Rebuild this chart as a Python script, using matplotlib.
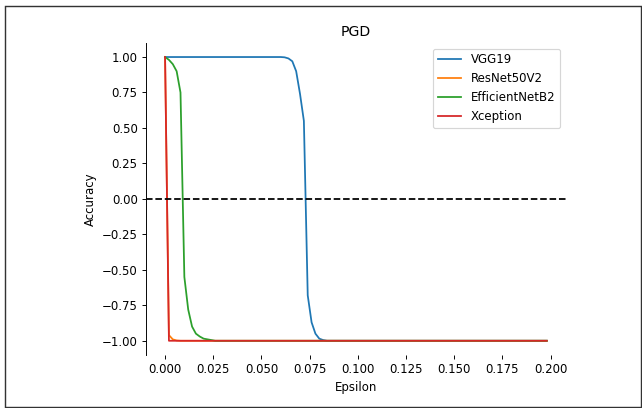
import numpy as np
import matplotlib
matplotlib.use("Agg")
import matplotlib.pyplot as plt
from matplotlib.patches import Rectangle

# epsilon grid: 0 .. 0.198 step 0.002 (100 points)
eps = np.round(np.arange(100) * 0.002, 3)

# values (accuracy at each epsilon)
vgg19_head = [1.0] * 30 + [1.0, 0.998, 0.99, 0.97, 0.90, 0.74, 0.55,
                           -0.68, -0.87, -0.95, -0.985, -0.995]
vgg19 = vgg19_head + [-1.0] * (100 - len(vgg19_head))

resnet_head = [1.0, -0.96, -0.99, -0.998]
resnet50v2 = resnet_head + [-1.0] * (100 - len(resnet_head))

effnet_head = [1.0, 0.98, 0.95, 0.90, 0.75, -0.55, -0.78, -0.90, -0.95,
               -0.97, -0.985, -0.99, -0.995]
efficientnetb2 = effnet_head + [-1.0] * (100 - len(effnet_head))

xcep_head = [1.0]
xception = xcep_head + [-1.0] * (100 - len(xcep_head))

series = {
    "VGG19": vgg19,
    "ResNet50V2": resnet50v2,
    "EfficientNetB2": efficientnetb2,
    "Xception": xception,
}

DPI = 85
fig = plt.figure(figsize=(642 / DPI, 408 / DPI), dpi=DPI)
ax = fig.add_axes([0.2274, 0.130, 0.654, 0.765])

for name, vals in series.items():
    ax.plot(eps, vals, label=name)

ax.axhline(0, color="black", linestyle="--")
ax.set_title("PGD")
ax.set_xlabel("Epsilon")
ax.set_ylabel("Accuracy")
ax.set_xticks(np.arange(0, 0.201, 0.025))
ax.set_yticks(np.arange(-1.0, 1.01, 0.25))
ax.legend(loc="upper right")

for s in ["top", "right", "bottom"]:
    ax.spines[s].set_visible(False)

# screenshot frame around the figure
fig.patches.append(Rectangle((4.5 / 642, 1.0 / 408), 636 / 642, 401.5 / 408,
                             transform=fig.transFigure, fill=False,
                             edgecolor="#333333", linewidth=1.2))

fig.savefig("out.png", dpi=DPI)
